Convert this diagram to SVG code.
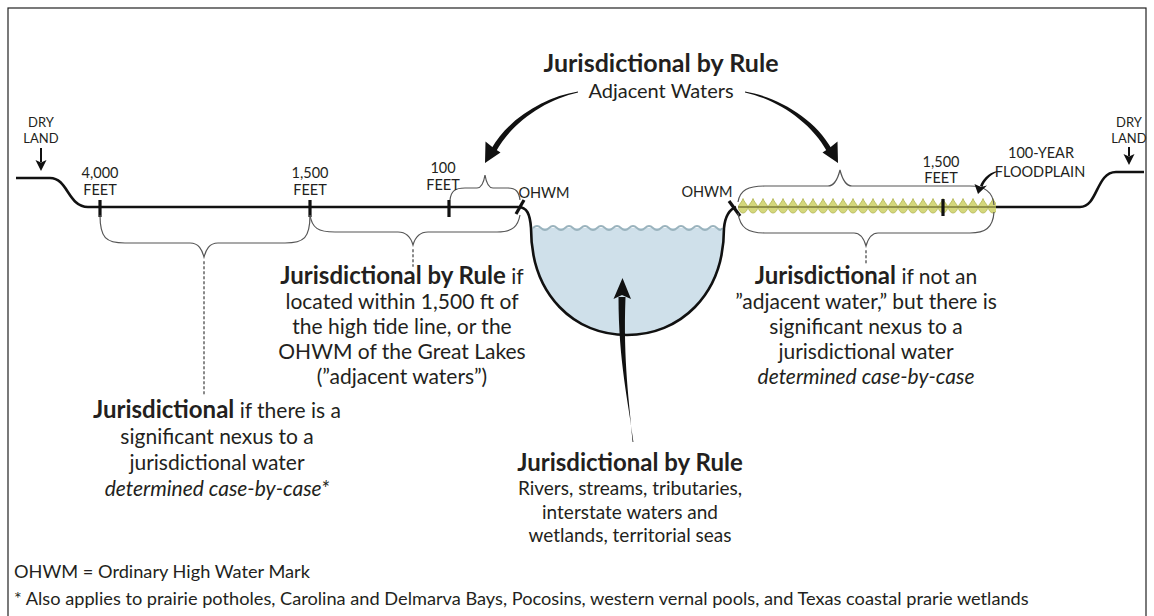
<svg xmlns="http://www.w3.org/2000/svg" width="1154" height="616" viewBox="0 0 1154 616">
<style>
text{font-family:Lato,"Open Sans","Liberation Sans",sans-serif;fill:#231f20}
.lbl{font-size:14.5px;text-anchor:middle}
.dry{font-size:13px;text-anchor:middle}
.body{font-size:21px;text-anchor:middle}
.b{font-weight:bold;font-size:24px}
.i{font-style:italic}
.brace{fill:none;stroke:#555;stroke-width:1.2}
.dot{fill:none;stroke:#888;stroke-width:2;stroke-dasharray:1.5 3.5;stroke-linecap:round}
.tick{stroke:#111;stroke-width:3.2}
.ground{fill:none;stroke:#111;stroke-width:2.6}
.arrow{fill:#111}
.foot{font-size:18.2px}
</style>
<defs>
<pattern id="veg" patternUnits="userSpaceOnUse" x="738" y="197" width="10" height="20">
<path d="M0,10 C1.5,6.5 4,5 5,1.5 C6,5 8.5,6.5 10,10 C9,14 7,16 5,16 C3,16 1,14 0,10 Z" fill="#d4d77c" stroke="#aeb24c" stroke-width="0.8"/>
</pattern>
</defs>
<rect x="8" y="8" width="1138" height="640" fill="#fff" stroke="#222" stroke-width="1.2"/>

<g id="water">
<path d="M531,228 C531,296 575,335 627,335 C679,335 724,296 724,228 Z" fill="#cfe0ea"/>
<path d="M533,228 q4,-4 8,0 t8,0 t8,0 t8,0 t8,0 t8,0 t8,0 t8,0 t8,0 t8,0 t8,0 t8,0 t8,0 t8,0 t8,0 t8,0 t8,0 t8,0 t8,0 t8,0 t8,0 t8,0 t8,0 t5,0" fill="none" stroke="#9ab3bd" stroke-width="1.8"/>
</g>

<g id="ground">
<path class="ground" d="M16,178 L50,178 C68,178 68,207 88,207 L518,207 C527,207 530,214 531,228 C531,296 575,335 627,335 C679,335 724,296 724,228 C725,218 728,210 736,207"/>
<rect x="738" y="197" width="258" height="20" fill="url(#veg)"/>
<line x1="738" y1="207" x2="996" y2="207" stroke="#7d7d3a" stroke-width="1.6"/>
<path class="ground" d="M996,207 L1080,207 C1098,207 1096,172 1116,172 L1144,172"/>
</g>

<g id="ticks">
<line class="tick" x1="100" y1="200" x2="100" y2="217"/>
<line class="tick" x1="310" y1="200" x2="310" y2="217"/>
<line class="tick" x1="449" y1="200" x2="449" y2="217"/>
<line class="tick" x1="943" y1="199" x2="943" y2="216"/>
<line class="tick" x1="516" y1="214" x2="524" y2="200"/>
<line class="tick" x1="729" y1="201" x2="740" y2="216"/>
</g>

<g id="braces">
<path class="brace" d="M100,215 C100,238 106,243 125,243 L190,243 C199,243 202,250 204,257 C206,250 209,243 218,243 L285,243 C304,243 310,238 310,215"/>
<path class="brace" d="M310,215 C312,228 318,232 335,232 L398,232 C407,232 411,238 413,245 C415,238 419,232 428,232 L497,232 C513,232 518,226 520,215"/>
<path class="brace" d="M450,200 C451,191 455,188 465,188 L477,188 C482,188 484,181 485,175 C486,181 488,188 493,188 L508,188 C516,188 519,192 520,200"/>
<path class="brace" d="M738,202 C740,190 748,186 765,186 L828,186 C835,186 838,178 840,170 C842,178 845,186 852,186 L970,186 C985,186 993,192 994,205"/>
<path class="brace" d="M738,213 C740,228 748,233 765,233 L854,233 C861,233 864,239 866,246 C868,239 871,233 878,233 L970,233 C985,233 993,228 994,212"/>
<path class="dot" d="M204,262 L204,394"/>
<path class="dot" d="M413,250 L413,266"/>
<path class="dot" d="M866,251 L866,266"/>
</g>

<g id="connectors">
<path class="arrow" d="M578,91.6 C545,97 509,118 491.5,148.5 L496,151.5 C512,122 546,99.5 578,92.4 Z"/>
<path class="arrow" d="M485,163 L485.5,141.5 L493.5,148 L500.5,152.5 Z"/>
<path class="arrow" d="M745,91.6 C778,97 814,118 831.5,148.5 L827,151.5 C811,122 777,99.5 745,92.4 Z"/>
<path class="arrow" d="M838,163 L837.5,141.5 L829.5,148 L822.5,152.5 Z"/>
<path class="arrow" d="M633.4,442 C628.5,402 618.5,362 618.5,297 L625.5,297 C623,362 629.5,402 632.6,442 Z"/>
<path class="arrow" d="M622.5,278 L613.5,299 L622,295 L631,299 Z"/>
<path class="arrow" d="M997,171 C988,173 982,180 980,186 L982.5,187 C984.5,181 990,175 997,172 Z"/>
<path class="arrow" d="M978,194 L974.5,184 L981,187 L987,185.5 Z"/>
<path class="arrow" d="M40,148 L42,148 L42,162 L40,162 Z"/>
<path class="arrow" d="M41,171 L35.5,160 L41,162.5 L46.5,160 Z"/>
<path class="arrow" d="M1128,147 L1130,147 L1130,156 L1128,156 Z"/>
<path class="arrow" d="M1129,165 L1123.5,154 L1129,156.5 L1134.5,154 Z"/>
</g>

<g id="labels">
<text class="dry" x="41" y="127">DRY</text>
<text class="dry" x="41" y="143">LAND</text>
<text class="dry" x="1129" y="127">DRY</text>
<text class="dry" x="1129" y="143">LAND</text>
<text class="lbl" y="178"><tspan x="100">4,000</tspan><tspan x="100" dy="17">FEET</tspan></text>
<text class="lbl" y="178"><tspan x="310">1,500</tspan><tspan x="310" dy="17">FEET</tspan></text>
<text class="lbl" y="173"><tspan x="443">100</tspan><tspan x="443" dy="17">FEET</tspan></text>
<text class="lbl" x="544" y="198">OHWM</text>
<text class="lbl" x="707" y="197">OHWM</text>
<text class="lbl" y="167"><tspan x="941">1,500</tspan><tspan x="941" dy="16">FEET</tspan></text>
<text class="lbl" y="158"><tspan x="1041">100-YEAR</tspan><tspan x="1040" dy="19">FLOODPLAIN</tspan></text>
</g>

<g id="top-label">
<text class="body" y="72"><tspan class="b" x="661" style="font-size:25px">Jurisdictional by Rule</tspan><tspan x="661" dy="26" style="font-size:20px">Adjacent Waters</tspan></text>
</g>

<g id="left-mid-label">
<text class="body" y="284"><tspan x="402"><tspan class="b">Jurisdictional by Rule</tspan> if</tspan><tspan x="402" dy="25">located within 1,500 ft of</tspan><tspan x="402" dy="25">the high tide line, or the</tspan><tspan x="402" dy="25">OHWM of the Great Lakes</tspan><tspan x="402" dy="25">(”adjacent waters”)</tspan></text>
</g>

<g id="right-label">
<text class="body" y="284"><tspan x="866"><tspan class="b">Jurisdictional</tspan> if not an</tspan><tspan x="866" dy="25">”adjacent water,” but there is</tspan><tspan x="866" dy="25">significant nexus to a</tspan><tspan x="866" dy="25">jurisdictional water</tspan><tspan class="i" x="866" dy="25">determined case-by-case</tspan></text>
</g>

<g id="left-bottom-label">
<text class="body" y="418"><tspan x="217"><tspan class="b">Jurisdictional</tspan> if there is a</tspan><tspan x="217" dy="26">significant nexus to a</tspan><tspan x="217" dy="26">jurisdictional water</tspan><tspan class="i" x="217" dy="26">determined case-by-case*</tspan></text>
</g>

<g id="center-label">
<text class="body" y="471" style="font-size:19px"><tspan class="b" x="630">Jurisdictional by Rule</tspan><tspan x="630" dy="24">Rivers, streams, tributaries,</tspan><tspan x="630" dy="24">interstate waters and</tspan><tspan x="630" dy="23">wetlands, territorial seas</tspan></text>
</g>

<g id="footer">
<text class="foot" x="14" y="578">OHWM = Ordinary High Water Mark</text>
<text class="foot" x="14" y="605">* Also applies to prairie potholes, Carolina and Delmarva Bays, Pocosins, western vernal pools, and Texas coastal prarie wetlands</text>
</g>
</svg>
